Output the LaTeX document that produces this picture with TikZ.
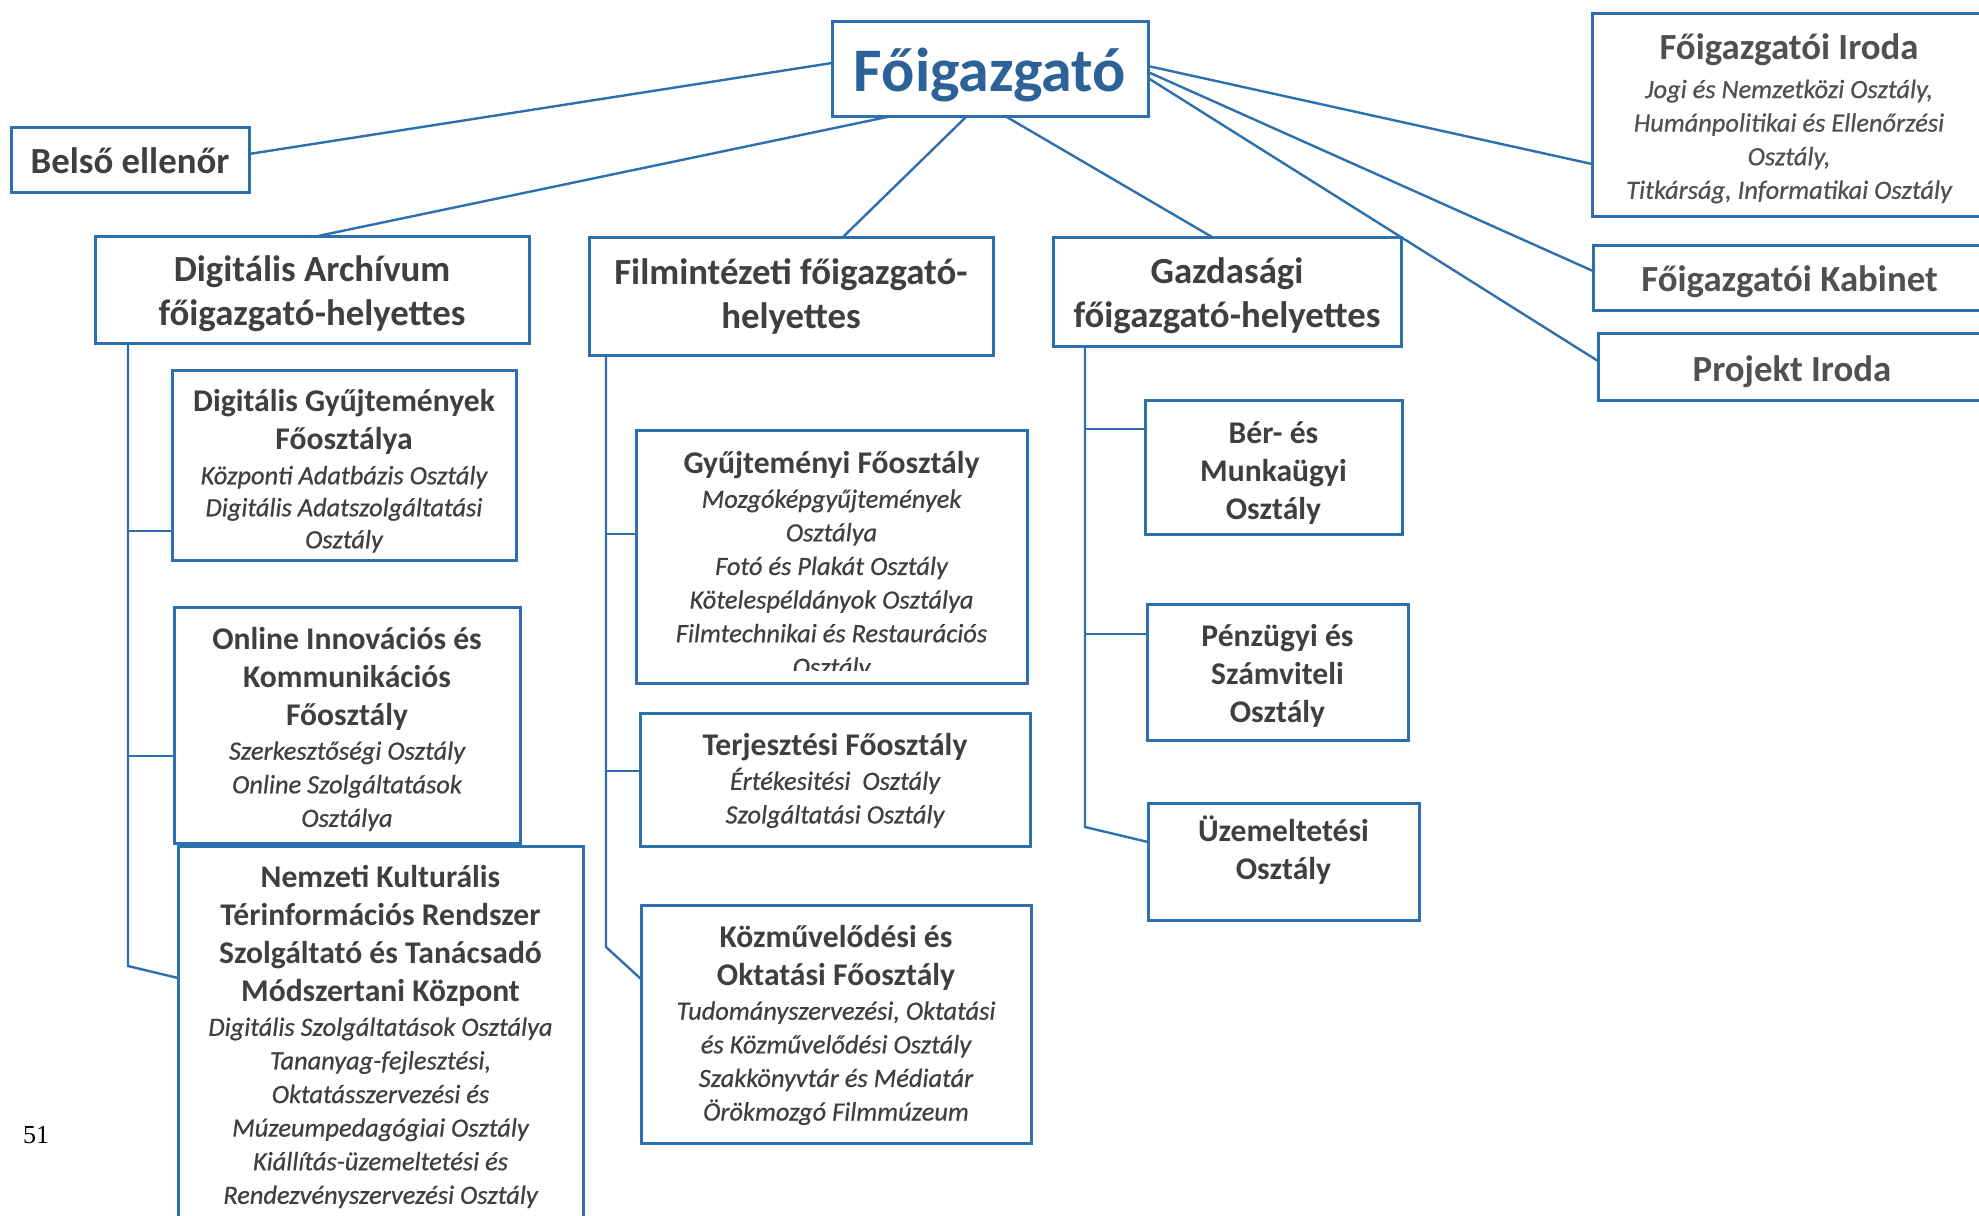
\documentclass[tikz,border=0pt]{standalone}
\usepackage{fontspec}
\setmainfont{Carlito}
\newfontfamily\pgnumfont{Liberation Serif}
\newfontfamily\semiit{Carlito}[FakeBold=0.6]
\usetikzlibrary{calc}
\definecolor{lb}{HTML}{2E6FB0}
\definecolor{tx}{HTML}{3F3F3F}
\definecolor{txl}{HTML}{505050}
\definecolor{fb}{HTML}{2D6298}
\newcommand\Tt[1]{{\fontsize{15.8}{19}\selectfont\bfseries #1}}
\newcommand\Ti[1]{{\fontsize{13.2}{16}\selectfont\semiit\itshape #1}}
\tikzset{
  x=0.5pt, y=-0.5pt,
  sz/.style 2 args={minimum width=#1*0.5pt, minimum height=#2*0.5pt},
  orgbox/.style={draw=lb, line width=1.5pt, inner sep=0pt, outer sep=0pt},
  txtblock/.style={inner sep=0pt, outer sep=0pt, align=center, text=tx,
    font=\fontsize{13.2}{16.8}\selectfont},
  headtxt/.style={font=\fontsize{18.4}{22}\selectfont\bfseries},
  conn/.style={draw=lb, line width=1.2pt},
}
% #1 text options, #2 name, #3 centre, #4 width, #5 height (pixels), #6 text
\newcommand\obox[6][]{%
  \node[orgbox, sz={#4}{#5}] (#2) at (#3) {};
  \node[txtblock, #1] (#2t) at (#2.center) {#6};}
\begin{document}
\begin{tikzpicture}
\useasboundingbox (0,0) rectangle (1979,1215);
\fill[white] (0,0) rectangle (1979,1215);
\clip (0,0) rectangle (1979,1215);

% top level
\obox[yshift=-3pt, font=\fontsize{31}{36}\selectfont\bfseries, text=fb]{fo}{990,68.5}{316}{95}{Főigazgató}
\obox[yshift=-0.5pt, headtxt]{be}{130,159.5}{238}{65}{Belső ellenőr}
\obox[yshift=-2pt, text=txl]{ir}{1789,114.5}{394}{203}
  {{\fontsize{18.4}{22}\selectfont\bfseries Főigazgatói Iroda}\\[2.5pt]
   \Ti{Jogi és Nemzetközi Osztály,}\\
   \Ti{Humánpolitikai és Ellenőrzési}\\
   \Ti{Osztály,}\\
   \Ti{Titkárság, Informatikai Osztály}}
\obox[yshift=-2pt, headtxt, text=txl]{kb}{1789.5,277.5}{393}{65}{Főigazgatói Kabinet}
\obox[yshift=-2.5pt, headtxt, text=txl]{pr}{1792,366.5}{388}{67}{Projekt Iroda}

% deputies
\obox[yshift=-2pt, headtxt]{da}{312,289.5}{434}{107}{Digitális Archívum\\főigazgató-helyettes}
\obox[headtxt]{fi}{791,296}{404}{118}{Filmintézeti főigazgató-\\helyettes}
\obox[yshift=-2.2pt, headtxt]{ga}{1227,291.5}{348}{109}{Gazdasági\\főigazgató-helyettes}

% Digitális Archívum units
\obox[yshift=-3pt]{dg}{344,465}{344}{190}
  {\Tt{Digitális Gyűjtemények}\\[2.2pt]
   \Tt{Főosztálya}\\[0.5pt]
   \Ti{Központi Adatbázis Osztály}\\[-0.8pt]
   \Ti{Digitális Adatszolgáltatási}\\[-0.8pt]
   \Ti{Osztály}}
\obox[yshift=-2pt]{on}{347,725}{346}{236}
  {\Tt{Online Innovációs és}\\[2.2pt]
   \Tt{Kommunikációs}\\[2.2pt]
   \Tt{Főosztály}\\[0.5pt]
   \Ti{Szerkesztőségi Osztály}\\
   \Ti{Online Szolgáltatások}\\
   \Ti{Osztálya}}
\node[orgbox, sz={405}{384}] (ne) at (380.5,1038) {};
\node[txtblock, anchor=north] (net) at ($(ne.north)+(0,19)$)
  {\Tt{Nemzeti Kulturális}\\[2.2pt]
   \Tt{Térinformációs Rendszer}\\[2.2pt]
   \Tt{Szolgáltató és Tanácsadó}\\[2.2pt]
   \Tt{Módszertani Központ}\\[0.5pt]
   \Ti{Digitális Szolgáltatások Osztálya}\\
   \Ti{Tananyag-fejlesztési,}\\
   \Ti{Oktatásszervezési és}\\
   \Ti{Múzeumpedagógiai Osztály}\\
   \Ti{Kiállítás-üzemeltetési és}\\
   \Ti{Rendezvényszervezési Osztály}};

% Filmintézet units
\node[orgbox, sz={391}{253}] (gy) at (831.5,556.5) {};
\begin{scope}
  \clip (gy.north west) rectangle ($(gy.south east)+(0,-13)$);
  \node[txtblock, anchor=north] (gyt) at ($(gy.north)+(0,21)$)
    {\Tt{Gyűjteményi Főosztály}\\[0.5pt]
     \Ti{Mozgóképgyűjtemények}\\
     \Ti{Osztálya}\\
     \Ti{Fotó és Plakát Osztály}\\
     \Ti{Kötelespéldányok Osztálya}\\
     \Ti{Filmtechnikai és Restaurációs}\\
     \Ti{Osztály}};
\end{scope}
\obox[yshift=-0.5pt]{te}{835,779.5}{390}{133}
  {\Tt{Terjesztési Főosztály}\\[0.5pt]
   \Ti{Értékesitési\ \ Osztály}\\
   \Ti{Szolgáltatási Osztály}}
\obox[yshift=-0.5pt]{ko}{836,1024}{390}{238}
  {\Tt{Közművelődési és}\\[2.2pt]
   \Tt{Oktatási Főosztály}\\[0.5pt]
   \Ti{Tudományszervezési, Oktatási}\\
   \Ti{és Közművelődési Osztály}\\
   \Ti{Szakkönyvtár és Médiatár}\\
   \Ti{Örökmozgó Filmmúzeum}}

% Gazdasági units
\obox[yshift=-3pt]{bm}{1273.5,467}{257}{134}
  {\Tt{Bér- és}\\[2.2pt]\Tt{Munkaügyi}\\[2.2pt]\Tt{Osztály}}
\obox[yshift=-2pt]{pe}{1277.5,672}{261}{136}
  {\Tt{Pénzügyi és}\\[2.2pt]\Tt{Számviteli}\\[2.2pt]\Tt{Osztály}}
\obox[yshift=5.5pt]{uz}{1283.5,861.5}{271}{117}
  {\Tt{Üzemeltetési}\\[2.2pt]\Tt{Osztály}}

% page number
\node[inner sep=0pt, text=black, font=\pgnumfont\fontsize{13}{15}\selectfont] (pg) at (36,1135) {51};

% connectors from the director
\draw[conn] ($(be.north east)+(0,27)$) -- ($(fo.north west)+(0,42)$);
\draw[conn] ($(da.north west)+(223,0)$) -- ($(fo.south west)+(60,0)$);
\draw[conn] ($(fi.north west)+(254,0)$) -- ($(fo.south west)+(135,0)$);
\draw[conn] ($(ga.north west)+(159,0)$) -- ($(fo.south west)+(173,0)$);
\draw[conn] ($(fo.north east)+(0,45)$) -- ($(ir.north west)+(0,151)$);
\draw[conn] ($(fo.north east)+(0,51)$) -- ($(kb.north west)+(0,26)$);
\draw[conn] ($(fo.north east)+(0,57)$) -- ($(pr.north west)+(0,28)$);

% Digitális Archívum spine
\draw[conn] ($(da.south west)+(33,0)$) -- ++(0,623) -- ($(ne.north west)+(0,132)$);
\draw[conn] ($(da.south west)+(33,0)$) |- ($(dg.north west)+(0,161)$);
\draw[conn] ($(da.south west)+(33,0)$) |- ($(on.north west)+(0,149)$);

% Filmintézeti spine
\draw[conn] ($(fi.south west)+(17,0)$) -- ++(0,592) -- ($(ko.north west)+(0,74)$);
\draw[conn] ($(fi.south west)+(17,0)$) |- ($(gy.north west)+(0,104)$);
\draw[conn] ($(fi.south west)+(17,0)$) |- ($(te.north west)+(0,58)$);

% Gazdasági spine
\draw[conn] ($(ga.south west)+(32,0)$) -- ++(0,481) -- ($(uz.north west)+(0,39)$);
\draw[conn] ($(ga.south west)+(32,0)$) |- ($(bm.north west)+(0,29)$);
\draw[conn] ($(ga.south west)+(32,0)$) |- ($(pe.north west)+(0,30)$);
\end{tikzpicture}
\end{document}
